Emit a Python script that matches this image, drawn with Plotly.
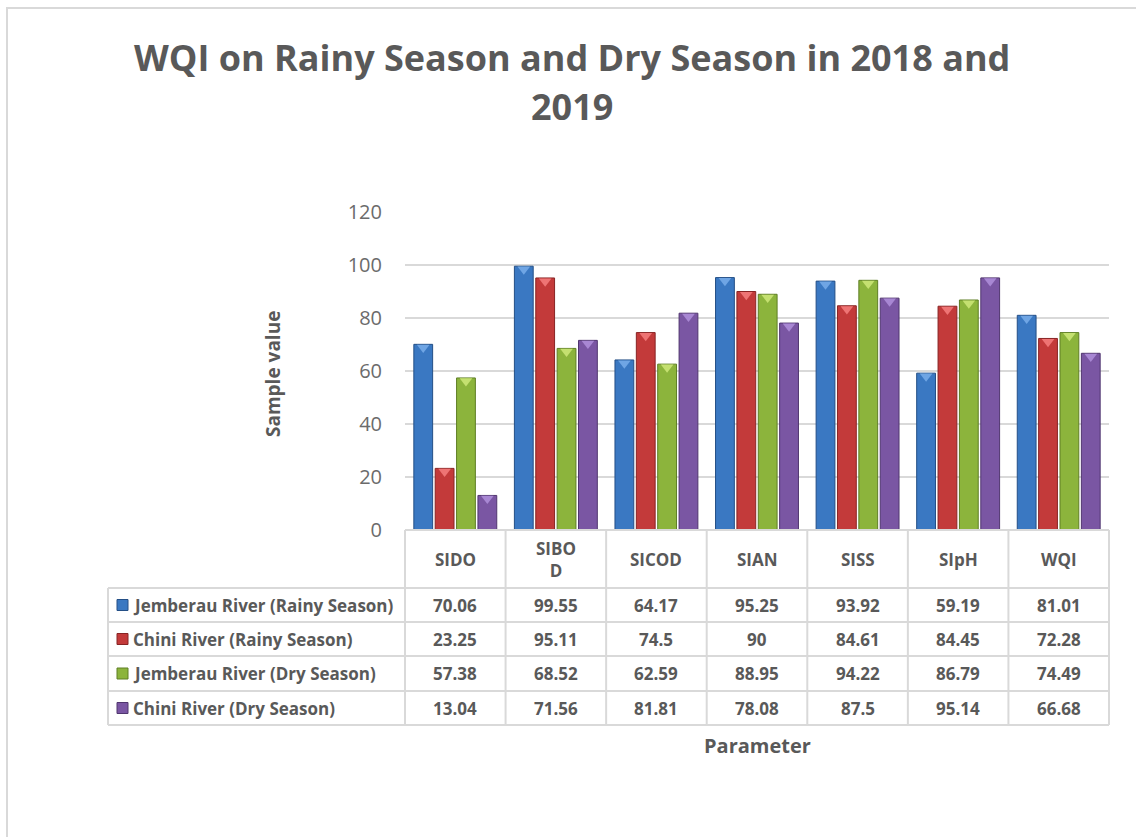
import plotly.graph_objects as go

# ---- data ----
categories = ["SIDO", "SIBOD", "SICOD", "SIAN", "SISS", "SIpH", "WQI"]
header_labels = ["SIDO", "SIBO<br>D", "SICOD", "SIAN", "SISS", "SIpH", "WQI"]
series_names = [
    "Jemberau River (Rainy Season)",
    "Chini River (Rainy Season)",
    "Jemberau River (Dry Season)",
    "Chini River (Dry Season)",
]
jemberau_rainy = [70.06, 99.55, 64.17, 95.25, 93.92, 59.19, 81.01]
chini_rainy = [23.25, 95.11, 74.5, 90, 84.61, 84.45, 72.28]
jemberau_dry = [57.38, 68.52, 62.59, 88.95, 94.22, 86.79, 74.49]
chini_dry = [13.04, 71.56, 81.81, 78.08, 87.5, 95.14, 66.68]
series_values = [jemberau_rainy, chini_rainy, jemberau_dry, chini_dry]
value_text = [
    ["70.06", "99.55", "64.17", "95.25", "93.92", "59.19", "81.01"],
    ["23.25", "95.11", "74.5", "90", "84.61", "84.45", "72.28"],
    ["57.38", "68.52", "62.59", "88.95", "94.22", "86.79", "74.49"],
    ["13.04", "71.56", "81.81", "78.08", "87.5", "95.14", "66.68"],
]

# ---- styling ----
fill_colors = ["#3A78C2", "#C33A3A", "#8CB43C", "#7A56A3"]
edge_colors = ["#244F86", "#882424", "#5E7E24", "#50366F"]
bevel_colors = ["#6FA5E4", "#EE7474", "#C4E070", "#A887D3"]
TEXT = "#595959"
GRID = "#D9D9D9"
FONT = "Open Sans"
TABLE_SIZE = 17

W, H = 1136, 837
PL, PR, PT, PB = 405, 1109, 212, 530  # plot area in pixels


def px(x):
    return (x - PL) / (PR - PL)


def py(y):
    return (PB - y) / (PB - PT)


fig = go.Figure()

for name, vals, fc, ec in zip(series_names, series_values, fill_colors, edge_colors):
    fig.add_trace(go.Bar(
        x=categories, y=vals, name=name,
        marker=dict(color=fc, line=dict(color=ec, width=1)),
        showlegend=False, hoverinfo="skip",
    ))

# bevel highlight at the top of every bar
for vals, bc in zip(series_values, bevel_colors):
    fig.add_trace(go.Scatter(
        x=categories, y=[v - 1.2 for v in vals], mode="markers",
        marker=dict(symbol="triangle-down", size=11, color=bc, line=dict(width=0)),
        showlegend=False, hoverinfo="skip",
    ))

shapes = []
annotations = []

# outer chart border
shapes.append(dict(type="rect", xref="paper", yref="paper",
                   x0=px(7), x1=px(1145), y0=py(8), y1=py(850),
                   line=dict(color=GRID, width=2)))

# data table grid
col_w = (PR - PL) / len(categories)
row_lines = [588, 622, 656, 691, 725]
TL = 108
shapes.append(dict(type="line", xref="paper", yref="paper",
                   x0=px(PL), x1=px(PR), y0=py(PB), y1=py(PB),
                   line=dict(color=GRID, width=2)))
for yy in row_lines:
    shapes.append(dict(type="line", xref="paper", yref="paper",
                       x0=px(TL), x1=px(PR), y0=py(yy), y1=py(yy),
                       line=dict(color=GRID, width=2)))
shapes.append(dict(type="line", xref="paper", yref="paper",
                   x0=px(TL), x1=px(TL), y0=py(row_lines[0]), y1=py(row_lines[-1]),
                   line=dict(color=GRID, width=2)))
for k in range(len(categories) + 1):
    xx = PL + k * col_w
    shapes.append(dict(type="line", xref="paper", yref="paper",
                       x0=px(xx), x1=px(xx), y0=py(PB), y1=py(row_lines[-1]),
                       line=dict(color=GRID, width=2)))

# column headers
for cat, lab in zip(categories, header_labels):
    annotations.append(dict(x=cat, xref="x", y=py((PB + row_lines[0]) / 2), yref="paper",
                            text=f"<b>{lab}</b>", showarrow=False,
                            font=dict(family=FONT, size=TABLE_SIZE, color=TEXT),
                            xanchor="center", yanchor="middle"))

# rows: legend key, series name, values
for i, (name, texts, fc, ec) in enumerate(zip(series_names, value_text, fill_colors, edge_colors)):
    yc = (row_lines[i] + row_lines[i + 1]) / 2
    shapes.append(dict(type="rect", xref="paper", yref="paper",
                       x0=px(117), x1=px(128), y0=py(yc - 5.5), y1=py(yc + 5.5),
                       fillcolor=fc, line=dict(color=ec, width=1)))
    annotations.append(dict(x=px(131), xref="paper", y=py(yc), yref="paper",
                            text=f"<b>{name}</b>", showarrow=False,
                            font=dict(family=FONT, size=TABLE_SIZE, color=TEXT),
                            xanchor="left", yanchor="middle"))
    for cat, t in zip(categories, texts):
        annotations.append(dict(x=cat, xref="x", y=py(yc), yref="paper",
                                text=f"<b>{t}</b>", showarrow=False,
                                font=dict(family=FONT, size=TABLE_SIZE, color=TEXT),
                                xanchor="center", yanchor="middle"))

# axis titles and chart title
annotations.append(dict(x=px(757), y=py(745), xref="paper", yref="paper",
                        text="<b>Parameter</b>", showarrow=False,
                        font=dict(family=FONT, size=20, color=TEXT),
                        xanchor="center", yanchor="middle"))
annotations.append(dict(x=px(273), y=py(374), xref="paper", yref="paper",
                        text="<b>Sample value</b>", showarrow=False, textangle=-90,
                        font=dict(family=FONT, size=19, color=TEXT),
                        xanchor="center", yanchor="middle"))
annotations.append(dict(x=px(572), y=py(57), xref="paper", yref="paper",
                        text="<b>WQI on Rainy Season and Dry Season in 2018 and</b>",
                        showarrow=False, font=dict(family=FONT, size=36, color=TEXT),
                        xanchor="center", yanchor="middle"))
annotations.append(dict(x=px(572), y=py(107), xref="paper", yref="paper",
                        text="<b>2019</b>",
                        showarrow=False, font=dict(family=FONT, size=36, color=TEXT),
                        xanchor="center", yanchor="middle"))

fig.update_layout(
    width=W, height=H,
    margin=dict(l=PL, r=W - PR, t=PT, b=H - PB, pad=0),
    paper_bgcolor="white", plot_bgcolor="white",
    barmode="group", bargap=0.15, bargroupgap=0.12,
    scattermode="group", scattergap=0.15,
    showlegend=False,
    shapes=shapes, annotations=annotations,
    xaxis=dict(showticklabels=False, showline=False, showgrid=False, zeroline=False,
               ticks=""),
    yaxis=dict(range=[0, 120], dtick=20, showgrid=True, gridcolor=GRID, gridwidth=2,
               zeroline=False, showline=False, ticks="", ticklabelstandoff=22,
               tickfont=dict(family=FONT, size=20, color="#6B6B6B")),
)

fig.write_html("out.html")
